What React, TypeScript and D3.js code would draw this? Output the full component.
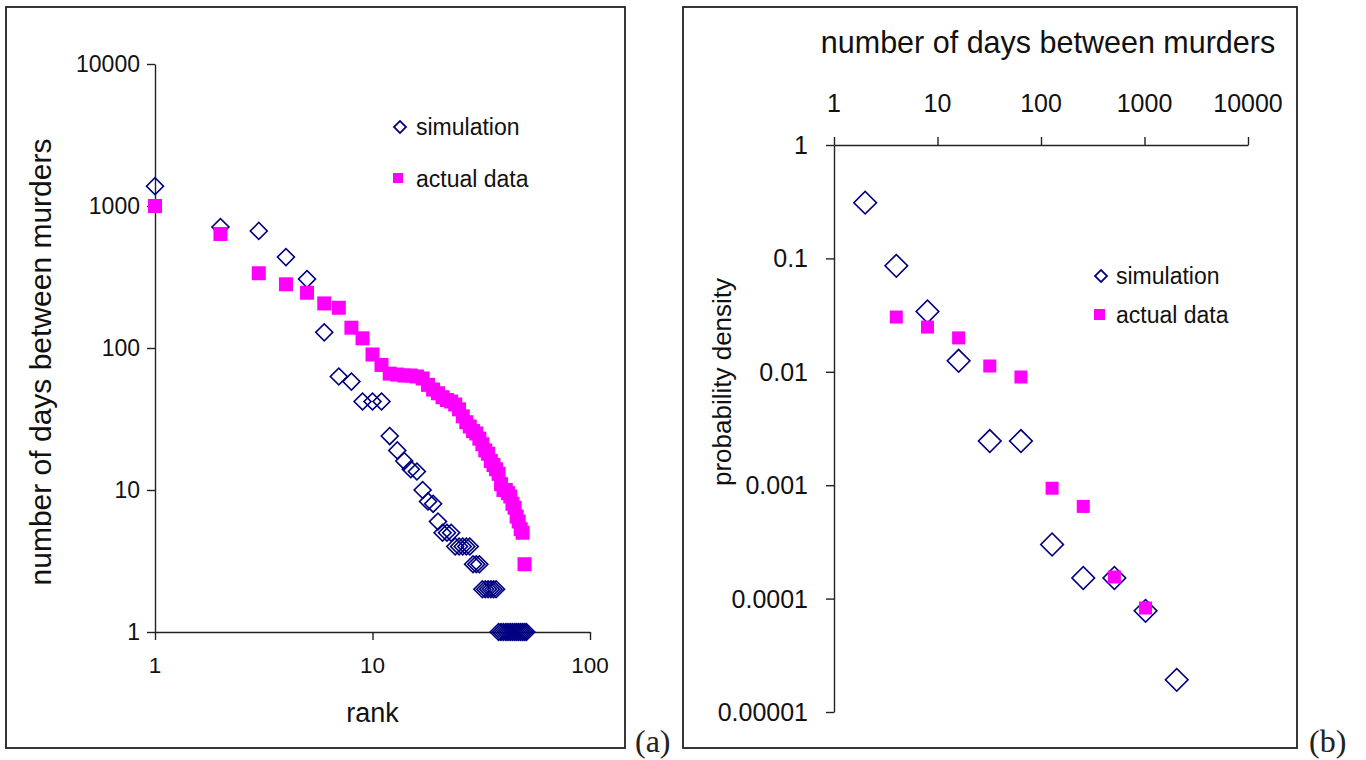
import React, { useRef, useEffect } from "react";
import * as d3 from "d3";

// (a) rank-ordered intervals, days between murders
const simRankDays = [
  1380, 711, 667, 437, 306, 129, 63, 58, 42, 42, 42, 24, 19, 16, 14, 13.5, 10,
  8.3, 8, 6, 5, 5, 5, 4, 4, 4, 4, 4, 3, 3, 3, 2, 2, 2, 2, 2, 2, 1, 1, 1, 1, 1,
  1, 1, 1, 1, 1, 1, 1, 1, 1,
];
const actualRankDays = [
  1000, 635, 336, 281, 245, 206, 192, 139, 117, 90, 76, 66, 65, 64, 64, 63, 61,
  55, 51, 48, 45, 43, 42, 40, 37, 33, 30, 28, 26, 25, 23, 21, 19, 18, 16, 15, 14,
  13, 11, 10, 10, 9.5, 9, 8, 7.5, 6.5, 6, 5.3, 5, 3,
];
const rankTicks = [1, 10, 100];
const daysTicks = [1, 10, 100, 1000, 10000];

// (b) probability density of the interval length
const simDays = [2, 4, 8, 16, 32, 64, 128, 256, 512, 1024, 2048];
const simDensity = [
  0.31, 0.086, 0.034, 0.0125, 0.00245, 0.00245, 0.0003, 0.000152, 0.000152,
  0.000078, 0.0000192,
];
const actualDays = [4, 8, 16, 32, 64, 128, 256, 512, 1024];
const actualDensity = [
  0.0304, 0.0248, 0.0199, 0.01125, 0.009, 0.00094, 0.00065, 0.000155, 0.0000826,
];
const intervalTicks = [1, 10, 100, 1000, 10000];
const densityTicks = [1, 0.1, 0.01, 0.001, 0.0001, 0.00001];
const densityLabels = ["1", "0.1", "0.01", "0.001", "0.0001", "0.00001"];

const legendLabels = ["simulation", "actual data"];

const NAVY = "#000080";
const MAGENTA = "#ff00ff";
const INK = "#222";
const SANS = "'Liberation Sans', Arial, sans-serif";

export default function App() {
  const ref = useRef<SVGSVGElement | null>(null);

  useEffect(() => {
    const svg = d3.select(ref.current);
    svg.selectAll("*").remove();

    const diamond = (side: number) =>
      d3.symbol().type(d3.symbolSquare).size(side * side)();

    // frames round the two panels
    svg.append("rect").attr("x", 6).attr("y", 7).attr("width", 619).attr("height", 741)
      .attr("fill", "none").attr("stroke", INK).attr("stroke-width", 1.8);
    svg.append("rect").attr("x", 683).attr("y", 7).attr("width", 614).attr("height", 741)
      .attr("fill", "none").attr("stroke", INK).attr("stroke-width", 1.8);

    svg.append("text").attr("x", 635).attr("y", 752).text("(a)")
      .attr("font-family", "'Liberation Serif', serif").attr("font-size", 32).attr("fill", INK);
    svg.append("text").attr("x", 1309).attr("y", 752).text("(b)")
      .attr("font-family", "'Liberation Serif', serif").attr("font-size", 32).attr("fill", INK);

    // ---------- panel (a)
    const xa = d3.scaleLog().domain([1, 100]).range([155, 590]);
    const ya = d3.scaleLog().domain([1, 10000]).range([632, 64]);
    const ga = svg.append("g");

    ga.append("g").attr("transform", `translate(0,${ya(1)})`)
      .call(d3.axisBottom(xa).tickValues(rankTicks).tickSize(8).tickSizeOuter(0).tickFormat(() => ""));
    ga.append("g").attr("transform", `translate(${xa(1)},0)`)
      .call(d3.axisLeft(ya).tickValues(daysTicks).tickSize(8).tickSizeOuter(0).tickFormat(() => ""));

    ga.selectAll(".xl").data(rankTicks).join("text")
      .attr("x", (d) => xa(d)).attr("y", 673).attr("text-anchor", "middle")
      .attr("font-size", 22.5).text((d) => String(d));
    ga.selectAll(".yl").data(daysTicks).join("text")
      .attr("x", 140).attr("y", (d) => ya(d)).attr("dy", "0.36em").attr("text-anchor", "end")
      .attr("font-size", 23).text((d) => String(d));

    ga.append("text").attr("x", xa(10)).attr("y", 722).attr("text-anchor", "middle")
      .attr("font-size", 27).text("rank");
    ga.append("text").attr("transform", "translate(40,362) rotate(-90)")
      .attr("text-anchor", "middle").attr("dy", "0.36em").attr("font-size", 30)
      .text("number of days between murders");

    ga.selectAll(".sim").data(simRankDays).join("path")
      .attr("d", diamond(12))
      .attr("transform", (d, i) => `translate(${xa(i + 1)},${ya(d)}) rotate(45)`)
      .attr("fill", "none").attr("stroke", NAVY).attr("stroke-width", 1.6);
    ga.selectAll(".act").data(actualRankDays).join("rect")
      .attr("x", (d, i) => xa(i + 1) - 7).attr("y", (d) => ya(d) - 7)
      .attr("width", 14).attr("height", 14).attr("fill", MAGENTA);

    // legend (a)
    const la = ga.append("g");
    la.append("path").attr("d", diamond(8.5)).attr("transform", "translate(400,127) rotate(45)")
      .attr("fill", "none").attr("stroke", NAVY).attr("stroke-width", 1.8);
    la.append("rect").attr("x", 393).attr("y", 173).attr("width", 10).attr("height", 10).attr("fill", MAGENTA);
    la.selectAll("text").data(legendLabels).join("text")
      .attr("x", 416).attr("y", (d, i) => (i === 0 ? 127 : 179)).attr("dy", "0.36em")
      .attr("font-size", 23).text((d) => d);

    // ---------- panel (b)
    const xb = d3.scaleLog().domain([1, 10000]).range([834, 1248]);
    const yb = d3.scaleLog().domain([1, 0.00001]).range([145, 712]);
    const gb = svg.append("g");

    gb.append("g").attr("transform", `translate(0,${yb(1)})`)
      .call(d3.axisTop(xb).tickValues(intervalTicks).tickSize(8).tickSizeOuter(0).tickFormat(() => ""));
    gb.append("g").attr("transform", `translate(${xb(1)},0)`)
      .call(d3.axisLeft(yb).tickValues(densityTicks).tickSize(8).tickSizeOuter(0).tickFormat(() => ""));

    gb.selectAll(".xl").data(intervalTicks).join("text")
      .attr("x", (d) => xb(d)).attr("y", 112).attr("text-anchor", "middle")
      .attr("font-size", 25).text((d) => String(d));
    gb.selectAll(".yl").data(densityTicks).join("text")
      .attr("x", 808).attr("y", (d) => yb(d)).attr("dy", "0.36em").attr("text-anchor", "end")
      .attr("font-size", 25).text((d, i) => densityLabels[i]);

    gb.append("text").attr("x", 1048).attr("y", 53).attr("text-anchor", "middle")
      .attr("font-size", 30.5).text("number of days between murders");
    gb.append("text").attr("transform", "translate(722,382) rotate(-90)")
      .attr("text-anchor", "middle").attr("dy", "0.36em").attr("font-size", 26)
      .text("probability density");

    gb.selectAll(".sim").data(simDays).join("path")
      .attr("d", diamond(16))
      .attr("transform", (d, i) => `translate(${xb(d)},${yb(simDensity[i])}) rotate(45)`)
      .attr("fill", "none").attr("stroke", NAVY).attr("stroke-width", 1.6);
    gb.selectAll(".act").data(actualDays).join("rect")
      .attr("x", (d) => xb(d) - 6.5).attr("y", (d, i) => yb(actualDensity[i]) - 6.5)
      .attr("width", 13).attr("height", 13).attr("fill", MAGENTA);

    const lb = gb.append("g");
    lb.append("path").attr("d", diamond(8.5)).attr("transform", "translate(1101,276) rotate(45)")
      .attr("fill", "none").attr("stroke", NAVY).attr("stroke-width", 1.8);
    lb.append("rect").attr("x", 1094).attr("y", 309).attr("width", 11).attr("height", 11).attr("fill", MAGENTA);
    lb.selectAll("text").data(legendLabels).join("text")
      .attr("x", 1116).attr("y", (d, i) => (i === 0 ? 276 : 315)).attr("dy", "0.36em")
      .attr("font-size", 23).text((d) => d);

    // axis styling like the spreadsheet original
    svg.selectAll(".domain, .tick line").attr("stroke", INK).attr("stroke-width", 1.4);
    svg.selectAll("text").attr("fill", (function (this: SVGTextElement) {
      return this.getAttribute("fill") || "#111";
    }) as any);
  }, []);

  return (
    <svg
      ref={ref}
      width={1366}
      height={760}
      style={{ position: "absolute", left: 0, top: 0, background: "#fff", fontFamily: SANS }}
    />
  );
}
